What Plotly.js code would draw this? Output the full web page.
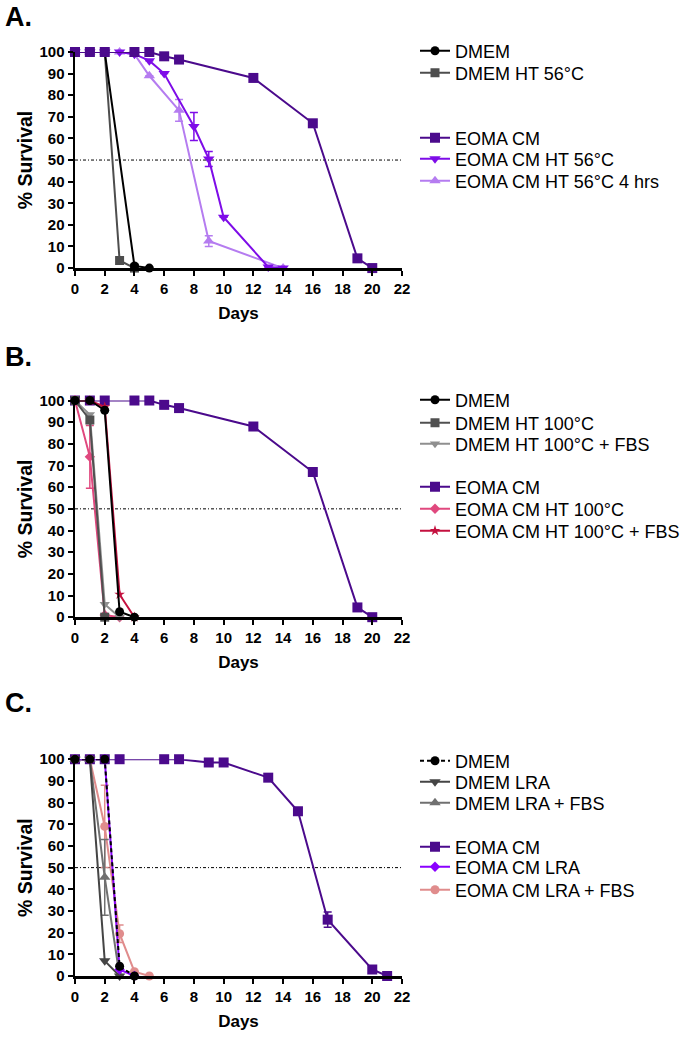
<!DOCTYPE html>
<html><head><meta charset="utf-8">
<script src="https://cdn.plot.ly/plotly-3.0.1.min.js"></script>
<style>html,body{margin:0;padding:0;background:#fff}</style>
</head><body><div id="chart" style="width:680px;height:1037px"></div>
<script>
// ---------------- DATA ----------------
// Panel A
const A_DMEM_days = [0,1,2,4,5];
const A_DMEM_surv = [100,100,100,1,0];
const A_DMEMHT56_days = [0,1,2,3,4];
const A_DMEMHT56_surv = [100,100,100,3.5,0];
const A_EOMA_days = [0,1,2,4,5,6,7,12,16,19,20];
const A_EOMA_surv = [100,100,100,100,100,98,96.5,88,67,4.5,0];
const A_EOMAHT56_days = [0,1,2,3,4,5,6,8,9,10,13,14];
const A_EOMAHT56_surv = [100,100,100,100,99,96,90,65.5,50.5,23.5,0.5,0];
const A_EOMAHT56_err  = [null,null,null,null,null,null,null,6.5,3.5,null,null,null];
const A_EOMAHT56_4h_days = [0,1,2,3,4,5,7,9,14];
const A_EOMAHT56_4h_surv = [100,100,100,100,99,89,73,12.5,0];
const A_EOMAHT56_4h_err  = [null,null,null,null,null,null,5,2.5,null];

// Panel B
const B_DMEM_days = [0,1,2,3,4];
const B_DMEM_surv = [100,100,95.5,2.5,0];
const B_DMEMHT100_days = [0,1,2];
const B_DMEMHT100_surv = [100,91,0];
const B_DMEMHT100FBS_days = [0,1,2,3];
const B_DMEMHT100FBS_surv = [100,93.5,6,0];
const B_EOMA_days = [0,1,2,4,5,6,7,12,16,19,20];
const B_EOMA_surv = [100,100,100,100,100,98,96.5,88,67,4.5,0];
const B_EOMAHT100_days = [0,1,2,3];
const B_EOMAHT100_surv = [100,74,1,0];
const B_EOMAHT100_err  = [null,14.5,null,null];
const B_EOMAHT100FBS_days = [0,1,2,3,4];
const B_EOMAHT100FBS_surv = [100,100,97,10.5,0];

// Panel C
const C_DMEM_days = [0,1,2,3,4];
const C_DMEM_surv = [100,100,100,4.5,0];
const C_DMEMLRA_days = [0,1,2,3];
const C_DMEMLRA_surv = [100,100,7,0];
const C_DMEMLRAFBS_days = [0,1,2,3];
const C_DMEMLRAFBS_surv = [100,100,45.5,0];
const C_DMEMLRAFBS_err  = [null,null,17.5,null];
const C_EOMA_days = [0,1,2,3,6,7,9,10,13,15,17,20,21];
const C_EOMA_surv = [100,100,100,100,100,100,98.5,98.5,91.5,76,26,3,0];
const C_EOMA_err  = [null,null,null,null,null,null,null,null,null,1.5,3.5,null,null];
const C_EOMALRA_days = [0,1,2,3,4];
const C_EOMALRA_surv = [100,100,100,3,0];
const C_EOMALRAFBS_days = [0,1,2,3,4,5];
const C_EOMALRAFBS_surv = [100,100,69,19.5,2,0];
const C_EOMALRAFBS_err  = [null,null,19,4,null,null];

const threshold = 50;
const panelLabels = ['A.','B.','C.'];

// ---------------- LAYOUT GEOMETRY ----------------
const W = 680, H = 1037;
const M = {l:75, r:278, t:52.3, b:61};
const PW = W - M.l - M.r, PH = H - M.t - M.b;
const px2x = p => (p - M.l) / PW;
const py2y = p => 1 - (p - M.t) / PH;
const panelPx = [[52.3,268.3],[400.7,617.3],[759.3,976]];
const FONT = 'Liberation Sans, Arial, Helvetica, sans-serif';

// series definitions
const series = [
 // A (draw order)
 {p:0,name:'EOMA CM HT 56°C 4 hrs',x:A_EOMAHT56_4h_days,y:A_EOMAHT56_4h_surv,e:A_EOMAHT56_4h_err,c:'#b57cf0',s:'triangle-up',z:10,ly:181},
 {p:0,name:'EOMA CM HT 56°C',x:A_EOMAHT56_days,y:A_EOMAHT56_surv,e:A_EOMAHT56_err,c:'#7e0ce8',s:'triangle-down',z:10,ly:159},
 {p:0,name:'DMEM HT 56°C',x:A_DMEMHT56_days,y:A_DMEMHT56_surv,c:'#4d4d4d',s:'square',z:9,ly:73},
 {p:0,name:'DMEM',x:A_DMEM_days,y:A_DMEM_surv,c:'#000000',s:'circle',z:9,ly:51},
 {p:0,name:'EOMA CM',x:A_EOMA_days,y:A_EOMA_surv,c:'#4b0a8c',s:'square',z:10,ly:138},
 // B
 {p:1,name:'EOMA CM',x:B_EOMA_days,y:B_EOMA_surv,c:'#4b0a8c',s:'square',z:10,ly:487},
 {p:1,name:'EOMA CM HT 100°C + FBS',x:B_EOMAHT100FBS_days,y:B_EOMAHT100FBS_surv,c:'#c4113f',s:'star',z:8,ly:531},
 {p:1,name:'EOMA CM HT 100°C',x:B_EOMAHT100_days,y:B_EOMAHT100_surv,e:B_EOMAHT100_err,c:'#e0487e',s:'diamond',z:8,ly:509},
 {p:1,name:'DMEM HT 100°C + FBS',x:B_DMEMHT100FBS_days,y:B_DMEMHT100FBS_surv,c:'#8f8f8f',s:'triangle-down',z:9,ly:444},
 {p:1,name:'DMEM HT 100°C',x:B_DMEMHT100_days,y:B_DMEMHT100_surv,c:'#505050',s:'square',z:9,ly:423},
 {p:1,name:'DMEM',x:B_DMEM_days,y:B_DMEM_surv,c:'#000000',s:'circle',z:9,ly:400},
 // C
 {p:2,name:'EOMA CM',x:C_EOMA_days,y:C_EOMA_surv,e:C_EOMA_err,c:'#4b0a8c',s:'square',z:10,ly:847},
 {p:2,name:'EOMA CM LRA + FBS',x:C_EOMALRAFBS_days,y:C_EOMALRAFBS_surv,e:C_EOMALRAFBS_err,c:'#e08c8c',s:'circle',z:9,ly:890},
 {p:2,name:'DMEM LRA + FBS',x:C_DMEMLRAFBS_days,y:C_DMEMLRAFBS_surv,e:C_DMEMLRAFBS_err,c:'#707070',s:'triangle-up',z:10,ly:803},
 {p:2,name:'DMEM LRA',x:C_DMEMLRA_days,y:C_DMEMLRA_surv,c:'#454545',s:'triangle-down',z:10,ly:782},
 {p:2,name:'EOMA CM LRA',x:C_EOMALRA_days,y:C_EOMALRA_surv,c:'#8a00ff',s:'diamond',z:8,ly:867},
 {p:2,name:'DMEM',x:C_DMEM_days,y:C_DMEM_surv,c:'#000000',s:'circle',z:9,d:'4px,3px',ly:761},
];

const layout = {
  width:W, height:H, margin:M, paper_bgcolor:'#fff', plot_bgcolor:'rgba(0,0,0,0)',
  font:{family:FONT,color:'#000'}, showlegend:true, shapes:[], annotations:[]
};

const data = series.map((sr,k) => {
  const leg = k === 0 ? 'legend' : 'legend' + (k+1);
  layout[leg] = {xref:'container', yref:'container', x:415/W, xanchor:'left', y:1 - sr.ly/H, yanchor:'middle',
    font:{family:FONT,size:18,color:'#000'}, bgcolor:'rgba(0,0,0,0)', borderwidth:0};
  const sfx = sr.p === 0 ? '' : String(sr.p+1);
  const t = {type:'scatter', mode:'lines+markers', name:sr.name, x:sr.x, y:sr.y,
    xaxis:'x'+sfx, yaxis:'y'+sfx, legend:leg, cliponaxis:false,
    line:{color:sr.c, width:2, dash:sr.d || 'solid'},
    marker:{color:sr.c, symbol:sr.s, size:sr.z, line:{width:0}}};
  if (sr.e) t.error_y = {type:'data', array:sr.e, visible:true, color:sr.c, thickness:1.5, width:4};
  return t;
});

for (let p = 0; p < 3; p++) {
  const sfx = p === 0 ? '' : String(p+1);
  const [top,bot] = panelPx[p];
  const tickfont = {family:FONT, size:15, weight:'bold', color:'#000'};
  layout['xaxis'+sfx] = {domain:[0,1], anchor:'y'+sfx, range:[0,22], dtick:2, tick0:0,
    ticks:'outside', ticklen:5, tickwidth:2, tickcolor:'#000', showline:true, linewidth:2.5,
    linecolor:'#000', showgrid:false, zeroline:false, tickfont, automargin:false,
    title:{text:'Days', font:{family:FONT,size:17,weight:'bold',color:'#000'}, standoff:12}};
  layout['yaxis'+sfx] = {domain:[py2y(bot), py2y(top)], anchor:'x'+sfx, range:[0,100], dtick:10, tick0:0,
    ticks:'outside', ticklen:5, tickwidth:2, tickcolor:'#000', showline:true, linewidth:2.5,
    linecolor:'#000', showgrid:false, zeroline:false, tickfont, automargin:false,
    title:{text:'% Survival', font:{family:FONT,size:19.5,weight:'bold',color:'#000'}, standoff:2}};
  layout.shapes.push({type:'line', xref:'x'+sfx+' domain', x0:0, x1:1, yref:'y'+sfx, y0:threshold, y1:threshold,
    line:{color:'#000', width:1, dash:'3px,2px,1px,2px'}, layer:'below'});
}
const labelPy = [17, 357, 703];
panelLabels.forEach((lab,i) => layout.annotations.push({text:'<b>'+lab+'</b>', xref:'paper', yref:'paper',
  x:px2x(3), y:py2y(labelPy[i]), xanchor:'left', yanchor:'middle', showarrow:false,
  font:{family:FONT,size:27,color:'#000'}}));

Plotly.newPlot('chart', data, layout, {displayModeBar:false, staticPlot:true});
</script></body></html>
